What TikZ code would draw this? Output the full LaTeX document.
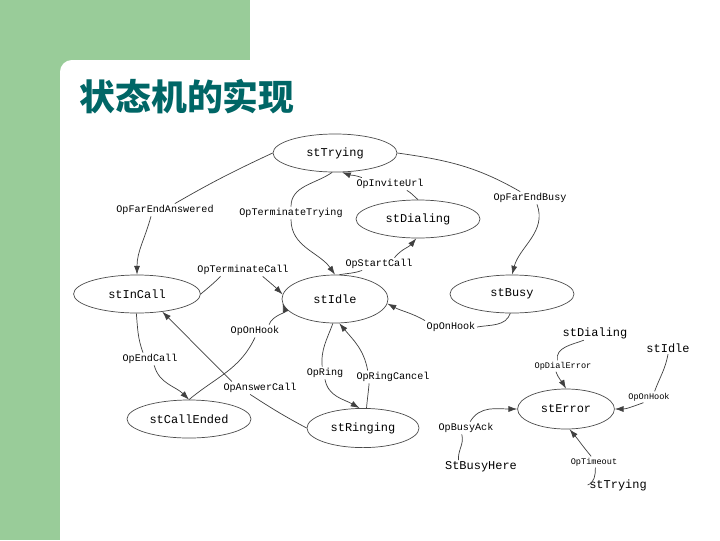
\documentclass[tikz,border=0pt]{standalone}
\usepackage{fontspec}
\newfontfamily\lblfont{Liberation Mono}
\newfontfamily\titlefont{Noto Sans CJK SC}
\usetikzlibrary{shapes.geometric, arrows.meta, positioning}
\definecolor{slidegreen}{RGB}{153,204,153}
\definecolor{titleteal}{RGB}{0,102,102}
\tikzset{
  state/.style={ellipse, draw=black!70, line width=0.5pt, inner sep=0pt,
                minimum width=3.1cm, minimum height=0.95cm,
                font={\lblfont\fontsize{8.5}{10}\selectfont}},
  stref/.style={inner sep=1pt, font={\lblfont\fontsize{8.5}{10}\selectfont}},
  evlbl/.style={inner sep=1pt, font={\lblfont\fontsize{7.2}{8}\selectfont}},
  evsmall/.style={inner sep=1pt, font={\lblfont\fontsize{6.1}{7}\selectfont}},
  trans/.style={draw=black!75, line width=0.5pt, -{Latex[length=2.2mm,width=1.5mm]}},
  slidetitle/.style={font={\titlefont\bfseries\fontsize{25.5}{28}\selectfont}, text=titleteal, inner sep=0pt},
}

\begin{document}
\begin{tikzpicture}[x=0.025cm, y=0.025cm]

\useasboundingbox (0,0) rectangle (720,-540);
\clip (0,0) rectangle (720,-540);

% slide frame
\fill[slidegreen] (0,0) rectangle (250,-60);
\fill[slidegreen] (0,0) rectangle (60,-540);
\fill[slidegreen] (60,-60) rectangle (80,-80);
\fill[white, rounded corners=8.5pt] (60,-60) rectangle (760,-600);

\node[slidetitle] (title) at (187,-97) {状态机的实现};

% states
\node[state] (stTrying)    at (335,-153) {stTrying};
\node[state] (stDialing)   at (418,-219) {stDialing};
\node[state, minimum width=3.17cm] (stInCall) at (137,-294) {stInCall};
\node[state, minimum width=2.65cm, minimum height=1.2cm] (stIdle) at (335,-299) {stIdle};
\node[state] (stBusy)      at (512,-294) {stBusy};
\node[state] (stCallEnded) at (189,-419) {stCallEnded};
\node[state, minimum width=2.8cm, minimum height=0.98cm] (stRinging) at (363,-428) {stRinging};
\node[state, minimum width=2.42cm, minimum height=1.0cm] (stError) at (566,-409) {stError};

\node[stref] (sDial2)    at (595,-333) {stDialing};
\node[stref] (sIdle2)    at (668,-348) {stIdle};
\node[stref] (sBusyHere) at (481,-467) {StBusyHere};
\node[stref] (sTry2)     at (618,-485) {stTrying};

% events
\node[evlbl] (lFarAns)     at (165,-210) {OpFarEndAnswered};
\node[evlbl] (lTermTry)    at (291,-213) {OpTerminateTrying};
\node[evlbl] (lInvite)     at (390,-184) {OpInviteUrl};
\node[evlbl] (lFarBusy)    at (530,-198) {OpFarEndBusy};
\node[evlbl] (lStart)      at (379,-264) {OpStartCall};
\node[evlbl] (lTermCall)   at (243,-270) {OpTerminateCall};
\node[evlbl] (lOnHook1)    at (255,-331) {OpOnHook};
\node[evlbl] (lOnHook2)    at (451,-327) {OpOnHook};
\node[evlbl] (lEndCall)    at (150,-359) {OpEndCall};
\node[evlbl] (lRing)       at (325,-373) {OpRing};
\node[evlbl] (lRingCancel) at (393,-377) {OpRingCancel};
\node[evlbl] (lAnswer)     at (260,-388) {OpAnswerCall};
\node[evlbl] (lBusyAck)    at (466,-428) {OpBusyAck};
\node[evsmall] (lDialErr)  at (563,-366) {OpDialError};
\node[evsmall] (lOnHook3)  at (649,-397) {OpOnHook};
\node[evsmall] (lTimeout)  at (594,-462) {OpTimeout};

% transitions
\draw[trans] (stTrying.west) to[out=205,in=30] ([xshift=7pt]lFarAns.north)
             ([xshift=-10pt]lFarAns.south) to[out=-105,in=90] (stInCall.north);
\draw[trans] ([xshift=-2pt]stTrying.south) to[out=215,in=90] (lTermTry.north)
             (lTermTry.south) to[out=-90,in=125] (stIdle.north);
\draw[trans] (stDialing.north) to[out=140,in=-30] ([xshift=12pt]lInvite.south)
             ([xshift=-20pt]lInvite.north) to[out=160,in=-20] (stTrying.-70);
\draw[trans] (stIdle.80) to[out=10,in=200] ([xshift=-12pt]lStart.south)
             ([xshift=11pt]lStart.north) to[out=50,in=230] (stDialing.-95);
\draw[trans] (stTrying.east) to[out=-8,in=150] ([xshift=-7pt]lFarBusy.north)
             ([xshift=5pt]lFarBusy.south) to[out=-70,in=75] (stBusy.north);
\draw[trans] (stInCall.east) to[out=40,in=225] ([xshift=-16pt]lTermCall.south)
             ([xshift=14pt]lTermCall.south) to[out=-40,in=135] (stIdle.175);
\draw[trans] (stBusy.-95) to[out=-110,in=10] (lOnHook2.east)
             (lOnHook2.north west) to[out=150,in=-28] (stIdle.-5);
\draw[trans] (stCallEnded.north) to[out=40,in=-115] (lOnHook1.south)
             ([xshift=10pt]lOnHook1.north) to[out=70,in=-70] (stIdle.185);
\draw[trans] (stInCall.-92) to[out=-85,in=110] ([xshift=-5pt]lEndCall.north)
             ([xshift=3pt]lEndCall.south) to[out=-75,in=135] (stCallEnded.north);
\draw[trans] (stRinging.west) to[out=152,in=-33] ([xshift=-7pt]lAnswer.south)
             ([xshift=-20pt]lAnswer.north) to[out=135,in=-45] (stInCall.-35);
\draw[trans] (stIdle.-95) to[out=-110,in=95] ([xshift=-2pt]lRing.north)
             (lRing.south) to[out=-80,in=150] (stRinging.100);
\draw[trans] (stRinging.80) to[out=85,in=-95] ([xshift=-17pt]lRingCancel.south)
             ([xshift=-18pt]lRingCancel.north) to[out=100,in=-50] (stIdle.-80);

\draw[trans] ([xshift=-8pt]sDial2.south) to[out=200,in=100] ([xshift=-4pt]lDialErr.north)
             ([xshift=-5pt]lDialErr.south) to[out=-70,in=120] (stError.north);
\draw[trans] (sIdle2.south) to[out=-100,in=70] ([xshift=4pt]lOnHook3.north)
             ([xshift=-4pt]lOnHook3.south) to[out=200,in=0] (stError.east);
\draw[trans] ([xshift=-16pt]sBusyHere.north) to[out=95,in=-75] ([xshift=-3pt]lBusyAck.south)
             ([xshift=3pt]lBusyAck.north) to[out=60,in=180] (stError.west);
\draw[trans] (sTry2.west) to[out=20,in=-90] ([xshift=1pt]lTimeout.south)
             ([xshift=-2pt]lTimeout.north) to[out=130,in=-50] (stError.-80);

\end{tikzpicture}
\end{document}
